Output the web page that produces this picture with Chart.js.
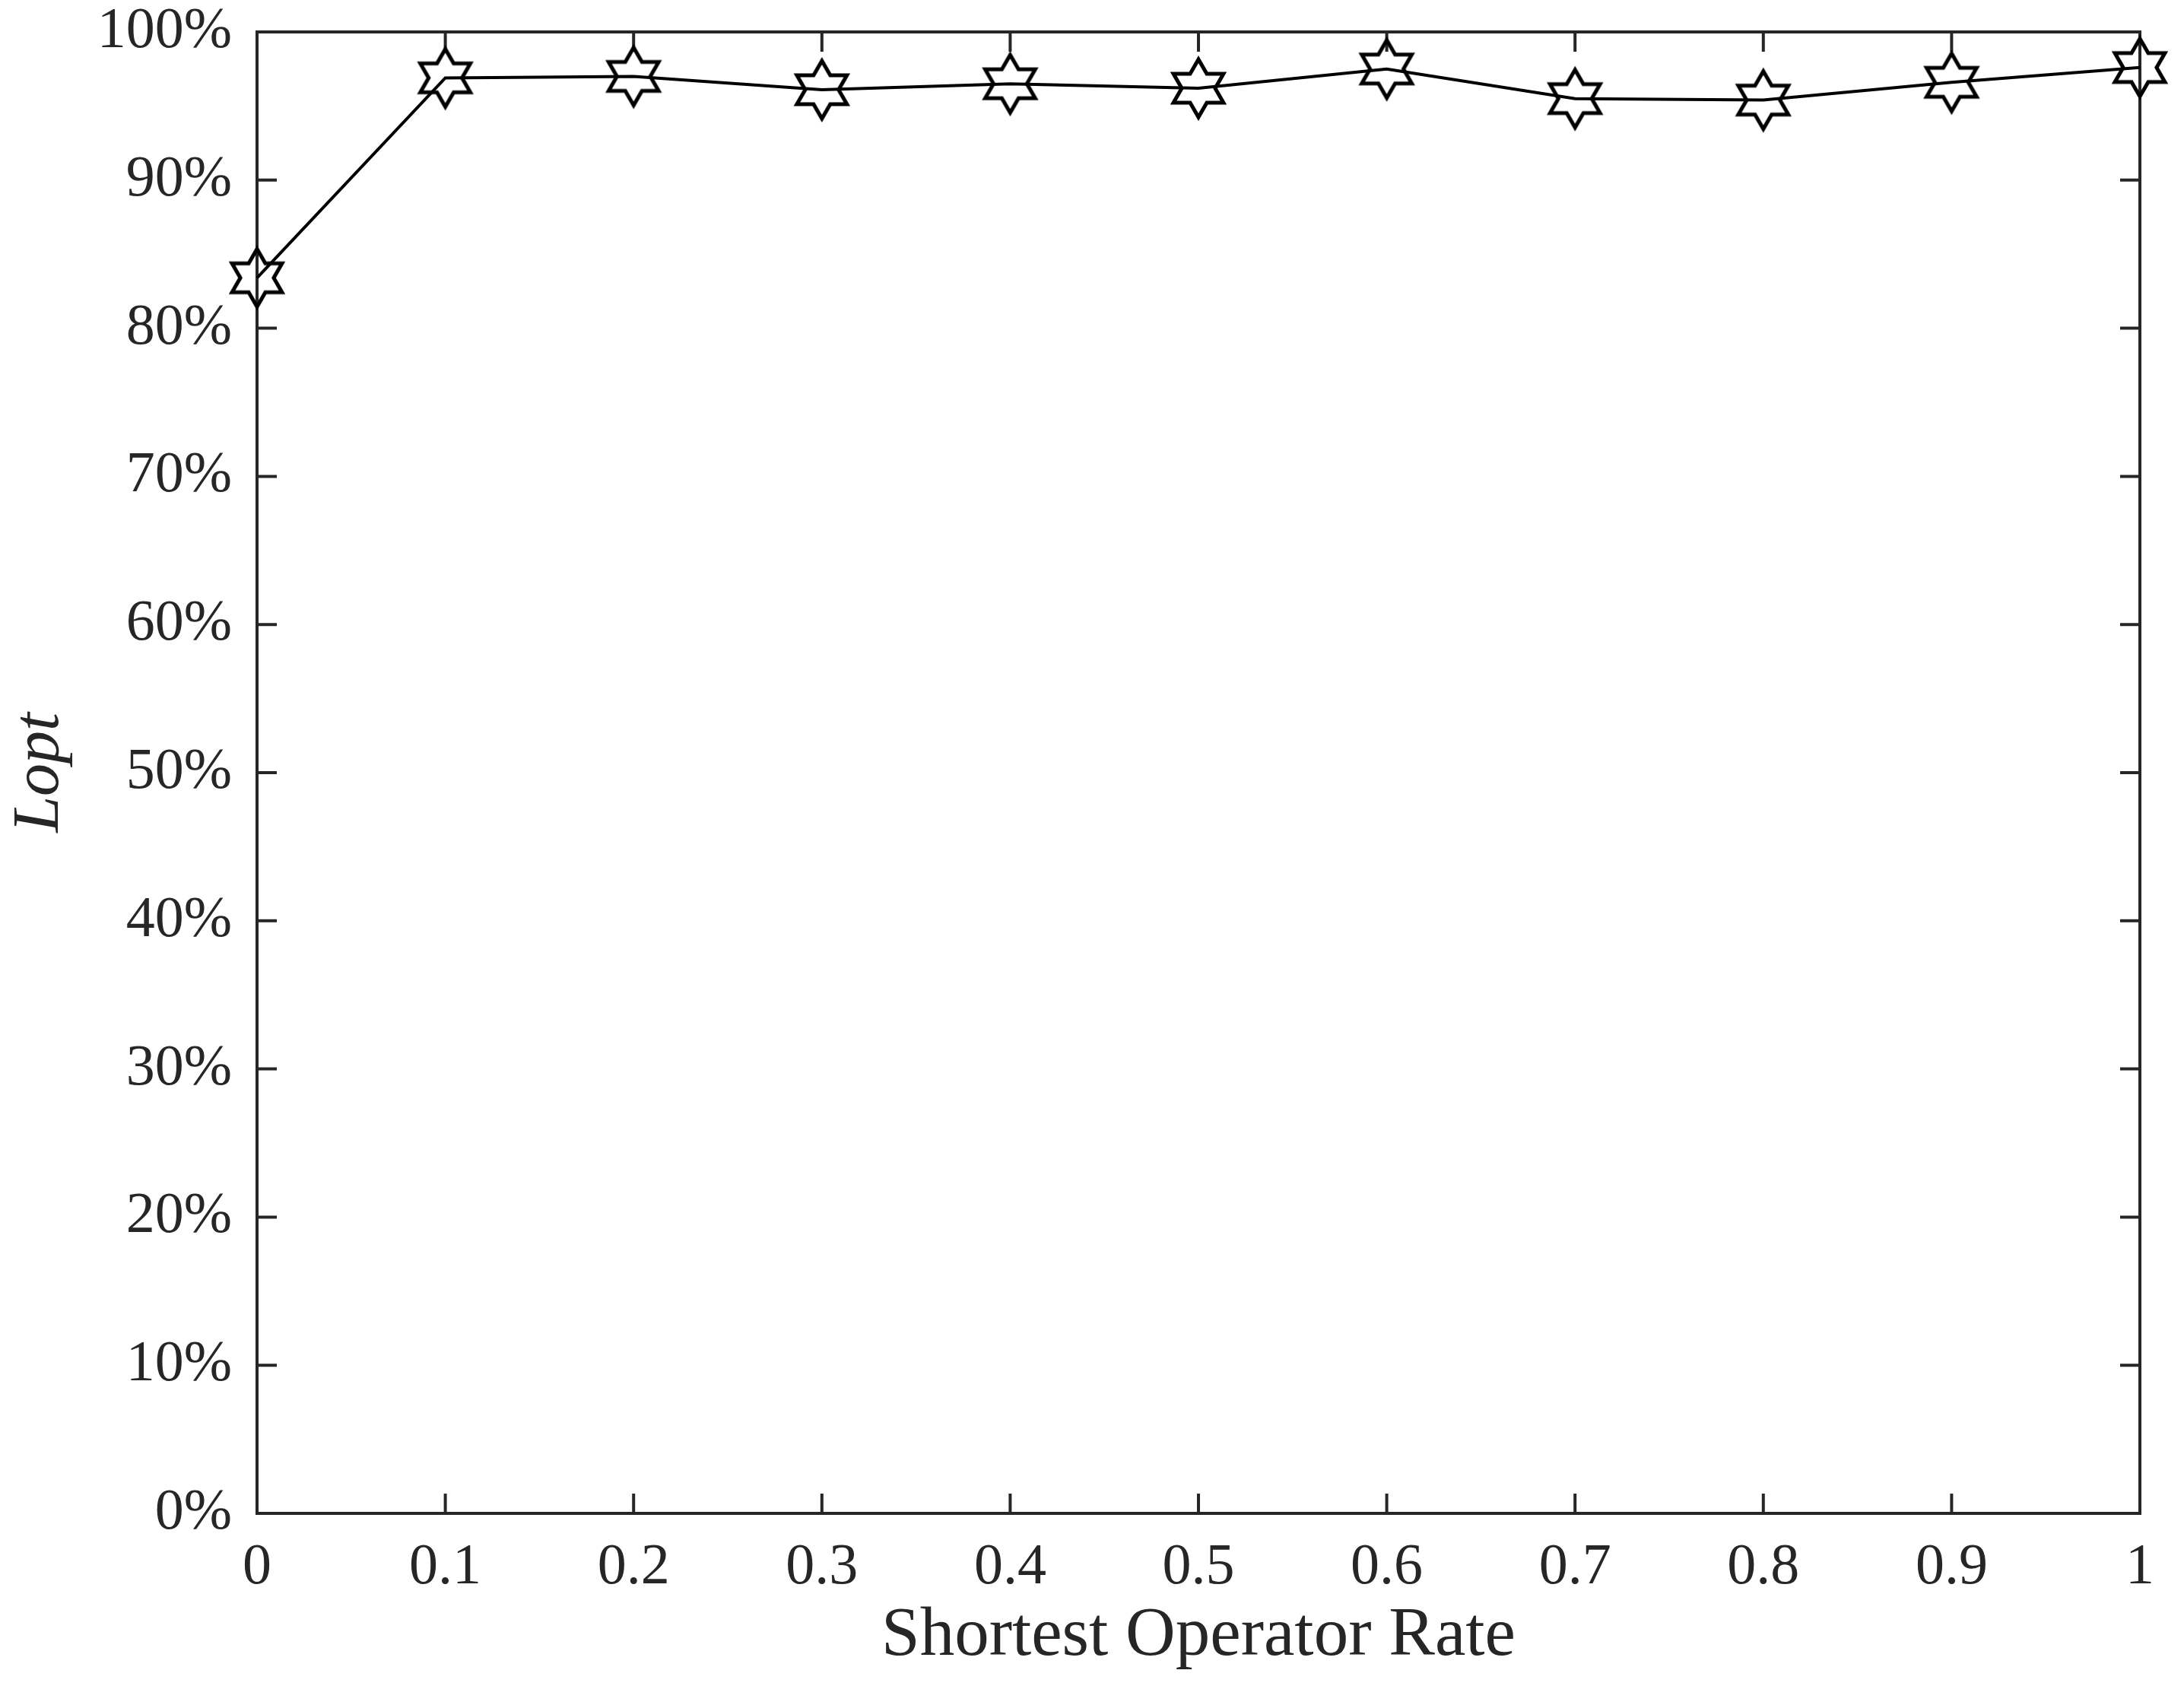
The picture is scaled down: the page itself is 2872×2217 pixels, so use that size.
<!DOCTYPE html>
<html>
<head>
<meta charset="utf-8">
<script src="https://cdn.jsdelivr.net/npm/chart.js@4/dist/chart.umd.min.js"></script>
<style>
  html, body { margin: 0; padding: 0; background: #fff; }
</style>
</head>
<body>
<canvas id="myChart" width="2872" height="2217"></canvas>
<script>
// values
const rates = [0, 0.1, 0.2, 0.3, 0.4, 0.5, 0.6, 0.7, 0.8, 0.9, 1];
const lopt = [83.4, 96.9, 97.0, 96.1, 96.5, 96.2, 97.5, 95.5, 95.4, 96.6, 97.6];
const xTickLabels = ['0', '0.1', '0.2', '0.3', '0.4', '0.5', '0.6', '0.7', '0.8', '0.9', '1'];
const yTickLabels = ['0%', '10%', '20%', '30%', '40%', '50%', '60%', '70%', '80%', '90%', '100%'];

const axisColor = '#262626';
const serif = '"Liberation Serif", "Times New Roman", serif';

// hexagram marker (MATLAB 'h'-style six point star), outline only
function hexagram(r, lw) {
  const size = Math.ceil(2 * r + lw * 2 + 6);
  const c = document.createElement('canvas');
  c.width = size;
  c.height = size;
  const g = c.getContext('2d');
  const cx = size / 2, cy = size / 2;
  const inner = r / Math.sqrt(3);
  g.beginPath();
  for (let i = 0; i < 12; i++) {
    const ang = -Math.PI / 2 + i * Math.PI / 6;
    const rad = i % 2 === 0 ? r : inner;
    const px = cx + rad * Math.cos(ang);
    const py = cy + rad * Math.sin(ang);
    if (i === 0) g.moveTo(px, py); else g.lineTo(px, py);
  }
  g.closePath();
  g.lineWidth = lw;
  g.lineJoin = 'miter';
  g.strokeStyle = '#000';
  g.stroke();
  return c;
}
const star = hexagram(38, 5);

// box around the plot plus inward ticks on all four sides
const boxPlugin = {
  id: 'boxTicks',
  beforeDatasetsDraw(chart) {
    const { ctx, chartArea: a, scales } = chart;
    const len = 26;
    ctx.save();
    ctx.strokeStyle = axisColor;
    ctx.lineWidth = 4;
    ctx.lineCap = 'butt';
    ctx.beginPath();
    scales.x.ticks.forEach(t => {
      const px = scales.x.getPixelForValue(t.value);
      ctx.moveTo(px, a.bottom); ctx.lineTo(px, a.bottom - len);
      ctx.moveTo(px, a.top); ctx.lineTo(px, a.top + len);
    });
    scales.y.ticks.forEach(t => {
      const py = scales.y.getPixelForValue(t.value);
      ctx.moveTo(a.left, py); ctx.lineTo(a.left + len, py);
      ctx.moveTo(a.right, py); ctx.lineTo(a.right - len, py);
    });
    ctx.stroke();
    ctx.lineJoin = 'miter';
    ctx.strokeRect(a.left, a.top, a.right - a.left, a.bottom - a.top);
    ctx.restore();
  }
};

const ctx = document.getElementById('myChart').getContext('2d');
new Chart(ctx, {
  type: 'line',
  data: {
    datasets: [{
      label: 'Lopt',
      data: rates.map((r, i) => ({ x: r, y: lopt[i] })),
      borderColor: '#000',
      borderWidth: 4,
      pointStyle: star,
      pointRadius: 38,
      pointHoverRadius: 38,
      fill: false,
      tension: 0,
      clip: false,
    }],
  },
  options: {
    responsive: false,
    devicePixelRatio: 1,
    animation: false,
    events: [],
    layout: { padding: { left: 0, right: 58, top: 38, bottom: 0 } },
    plugins: {
      legend: { display: false },
      tooltip: { enabled: false },
    },
    scales: {
      x: {
        type: 'linear',
        min: 0,
        max: 1,
        grid: { display: false, drawTicks: false },
        border: { display: false },
        ticks: {
          stepSize: 0.1,
          padding: 26,
          color: axisColor,
          maxRotation: 0,
          autoSkip: false,
          font: { family: serif, size: 76 },
          callback: (v, i) => xTickLabels[i],
        },
        title: {
          display: true,
          text: 'Shortest Operator Rate',
          color: axisColor,
          font: { family: serif, size: 91, lineHeight: 1.2 },
          padding: { top: 0, bottom: 10 },
        },
        afterFit(scale) {
          scale.height = 227;
          scale.paddingLeft = 0;
          scale.paddingRight = 0;
        },
      },
      y: {
        min: 0,
        max: 100,
        grid: { display: false, drawTicks: false },
        border: { display: false },
        ticks: {
          stepSize: 10,
          padding: 33,
          color: axisColor,
          autoSkip: false,
          font: { family: serif, size: 76 },
          callback: (v, i) => yTickLabels[i],
        },
        title: {
          display: true,
          text: 'Lopt',
          color: axisColor,
          font: { family: serif, size: 86, style: 'italic', lineHeight: 1.2 },
          padding: { top: 2, bottom: 0 },
        },
        afterFit(scale) {
          scale.width = 338;
          scale.paddingTop = 0;
          scale.paddingBottom = 0;
        },
      },
    },
  },
  plugins: [boxPlugin],
});
</script>
</body>
</html>
